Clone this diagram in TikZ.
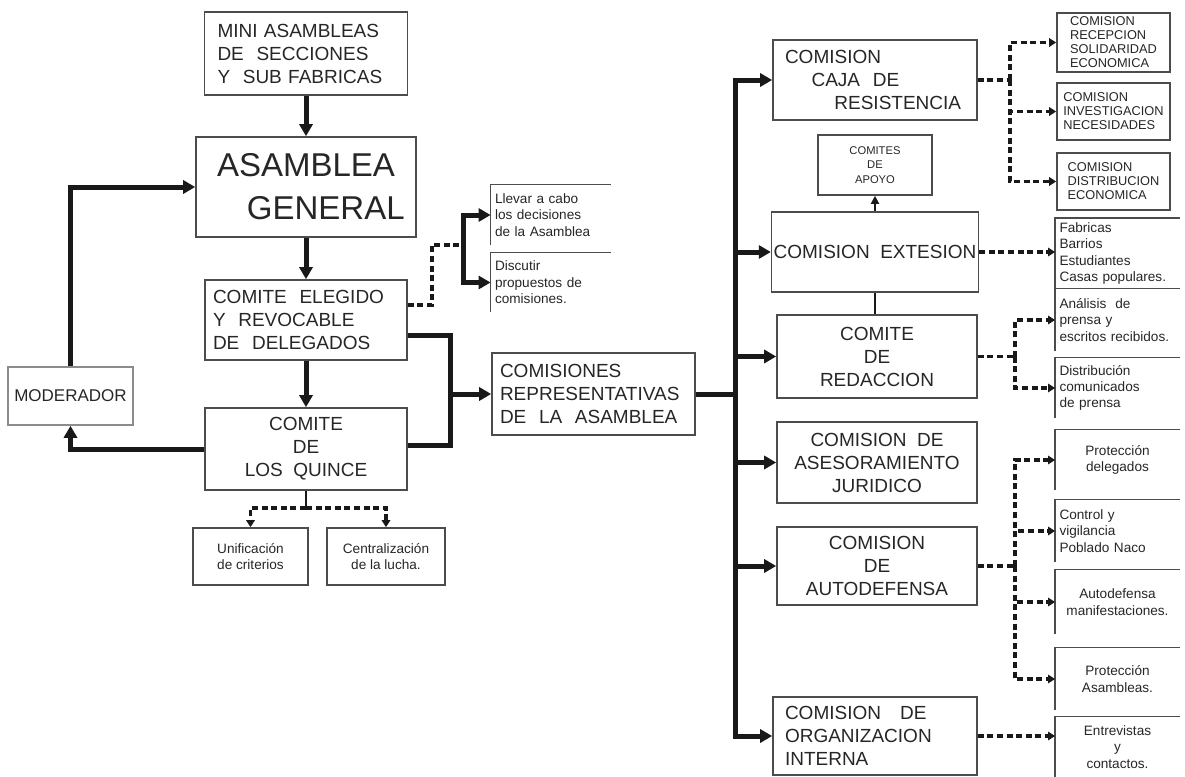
\documentclass[tikz,border=0pt]{standalone}
\usepackage{fontspec}
\setmainfont{Liberation Sans}
\usetikzlibrary{arrows.meta,calc}
\begin{document}
\begin{tikzpicture}[x=0.5pt,y=-0.5pt,
  box/.style={draw=black!70, line width=0.8pt, align=center, inner sep=1pt, text=black!85},
  sz/.style 2 args={minimum width=#1*0.5pt, minimum height=#2*0.5pt},
  lt/.style={align=left, text width=#1},
  open/.style={align=left, inner sep=2pt, text=black!85},
  big/.style={font=\fontsize{9.5}{11.5}\selectfont},
  huge/.style={font=\fontsize{16.5}{21.5}\selectfont},
  small/.style={font=\fontsize{6.8}{8.2}\selectfont},
  tiny/.style={font=\fontsize{6.4}{7}\selectfont},
  mini/.style={font=\fontsize{5.6}{7.2}\selectfont},
  thk/.style={line width=2.5pt, black!90, -{Triangle[length=6pt,width=6.5pt]}},
  thkn/.style={line width=2.5pt, black!90},
  med/.style={line width=1.3pt, black!90},
  dsh/.style={line width=1.6pt, black!90, dash pattern=on 3pt off 1.8pt},
  dar/.style={dsh, -{Triangle[length=3.5pt,width=4.2pt]}},
  bline/.style={draw=black!70, line width=0.8pt},
]
\useasboundingbox (0,0) rectangle (1185,777);

% ---------- left part ----------
\node[box,sz={203}{83},big,lt=88.5pt] (mini) at (306,53.5) {MINI ASAMBLEAS\\DE\ \ SECCIONES\\Y\ \ SUB FABRICAS};
\node[box,sz={220}{100},huge] (asam) at (306,187) {ASAMBLEA\\\hspace*{1.2em}GENERAL};
\node[box,sz={202}{80},big,lt=93pt] (elegido) at (306,320) {COMITE\ \ ELEGIDO\\Y\ \ REVOCABLE\\DE\ \ DELEGADOS};
\node[box,sz={202}{82},big] (quince) at (306,449) {COMITE\\DE\\LOS\ \ QUINCE};
\node[box,draw=black!45,sz={125}{58},font=\fontsize{8.5}{10}\selectfont] (moder) at (70.5,396) {MODERADOR};
\node[box,sz={115}{57},small] (unif) at (250.5,556.5) {Unificación\\de criterios};
\node[box,sz={118}{57},small] (centr) at (386,556.5) {Centralización\\de la lucha.};

\node[open,small,text width=56pt,minimum height=30pt] (llevar) at (551,215) {Llevar a cabo\\los decisiones\\de la Asamblea};
\node[open,small,text width=56pt,minimum height=29.5pt] (discutir) at (551,282.5) {Discutir\\propuestos de\\comisiones.};
\draw[bline] (llevar.south west) |- (llevar.north east);
\draw[bline] (discutir.south west) |- (discutir.north east);

\node[box,sz={203}{82},big,lt=93.5pt] (comis) at (593.5,394) {COMISIONES\\REPRESENTATIVAS\\DE\ \ LA\ \ ASAMBLEA};

% ---------- middle column ----------
\node[box,sz={204}{80},big,lt=90pt] (caja) at (875,80) {COMISION\\\hspace*{1.4em}CAJA\ \ DE\\\hspace*{2.6em}RESISTENCIA};
\node[box,sz={114}{60},mini] (apoyo) at (875,165) {COMITES\\DE\\APOYO};
\node[box,sz={204}{80},big] (ext) at (875,252) {COMISION\ \ EXTESION};
\node[box,sz={200}{83},big] (red) at (877,356.5) {COMITE\\DE\\REDACCION};
\node[box,sz={200}{81},big] (jur) at (877,462.5) {COMISION\ \ DE\\ASESORAMIENTO\\JURIDICO};
\node[box,sz={200}{78},big] (auto) at (877,566) {COMISION\\DE\\AUTODEFENSA};
\node[box,sz={204}{78},big,lt=90pt] (org) at (875,736) {COMISION\ \ \ DE\\ORGANIZACION\\INTERNA};

% ---------- right column ----------
\node[box,sz={113}{59},tiny,align=left] (r1) at (1113.5,42.5) {COMISION\\RECEPCION\\SOLIDARIDAD\\ECONOMICA};
\node[box,sz={113}{57},tiny,align=left] (r2) at (1113.5,111.5) {COMISION\\INVESTIGACION\\NECESIDADES};
\node[box,sz={113}{57},tiny,align=left] (r3) at (1113.5,181.5) {COMISION\\DISTRIBUCION\\ECONOMICA};

\node[open,small,text width=58pt,minimum height=31.5pt] (b1) at (1117.5,253.5) {Fabricas\\Barrios\\Estudiantes\\Casas populares.};
\node[open,small,text width=58pt,minimum height=31pt] (b2) at (1117.5,320) {Análisis\ \ de\\prensa y\\escritos recibidos.};
\node[open,small,text width=58pt,minimum height=30pt] (b3) at (1117.5,388) {Distribución\\comunicados\\de prensa};
\node[open,small,text width=58pt,minimum height=30pt,align=center] (b4) at (1117.5,460) {Protección\\delegados};
\node[open,small,text width=58pt,minimum height=31pt] (b5) at (1117.5,531) {Control y\\vigilancia\\Poblado Naco};
\node[open,small,text width=58pt,minimum height=32pt,align=center] (b6) at (1117.5,602) {Autodefensa\\manifestaciones.};
\node[open,small,text width=58pt,minimum height=31pt,align=center] (b7) at (1117.5,679) {Protección\\Asambleas.};
\node[open,small,text width=58pt,minimum height=30pt,align=center] (b8) at (1117.5,747) {Entrevistas\\y\\contactos.};
\foreach \b in {b1,b2,b3,b4,b5,b6,b7,b8}
  \draw[bline] (\b.south west) |- (\b.north east);

% ---------- connectors: left ----------
\draw[thk] (mini.south) -- (asam.north);
\draw[thk] (asam.south) -- (elegido.north);
\draw[thk] (elegido.south) -- (quince.north);
\draw[thk] (quince.west) -| (moder.south);
\draw[thk] (moder.north) |- (asam.west);

\coordinate (bus) at (450,394);
\draw[thkn] ($(elegido.east)+(0,15)$) -| (bus);
\draw[thkn] ($(quince.east)+(0,-4)$) -| (bus);
\draw[thk] (bus) -- (comis.west);

\coordinate (dv) at (432,245);
\coordinate (dj) at (463,245);
\draw[dsh] ($(elegido.east)+(0,-15)$) -| (dv) -- (dj);
\draw[thk] (dj) |- (llevar.west);
\draw[thk] (dj) |- (discutir.west);

\coordinate (qj) at (306,508);
\draw[med] (quince.south) -- (qj);
\draw[dar] (qj) -| (unif.north);
\draw[dar] (qj) -| (centr.north);

% ---------- spine ----------
\coordinate (spX) at (735,0);
\coordinate (spB) at (org.west -| spX);
\draw[line width=2.5pt, black!90, {Triangle[length=6pt,width=6.5pt]}-{Triangle[length=6pt,width=6.5pt]}] (caja.west) -| (spB) -- (org.west);
\draw[thkn] (comis.east) -- (comis.east -| spX);
\foreach \n in {ext,red,jur,auto}
  \draw[thk] (\n.west -| spX) -- (\n.west);

\draw[med,-{Triangle[length=4pt,width=4pt]}] (ext.north) -- (apoyo.south);
\draw[med] (ext.south) -- (ext.south |- red.north);

% ---------- dashed right ----------
\coordinate (cj) at (1010,80);
\draw[dsh] (caja.east) -- (cj);
\foreach \n in {r1,r2,r3}
  \draw[dar] (cj) |- (\n.west);

\draw[dar] (ext.east) -- (ext.east -| b1.west);

\coordinate (rj) at (1015,356.5);
\draw[dsh] (red.east) -- (rj);
\foreach \n in {b2,b3}
  \draw[dar] (rj) |- (\n.west);

\coordinate (aj) at (1015,566);
\draw[dsh] (auto.east) -- (aj);
\foreach \n in {b4,b5,b6,b7}
  \draw[dar] (aj) |- (\n.west);

\draw[dar] (org.east) -- (org.east -| b8.west);
\end{tikzpicture}
\end{document}
